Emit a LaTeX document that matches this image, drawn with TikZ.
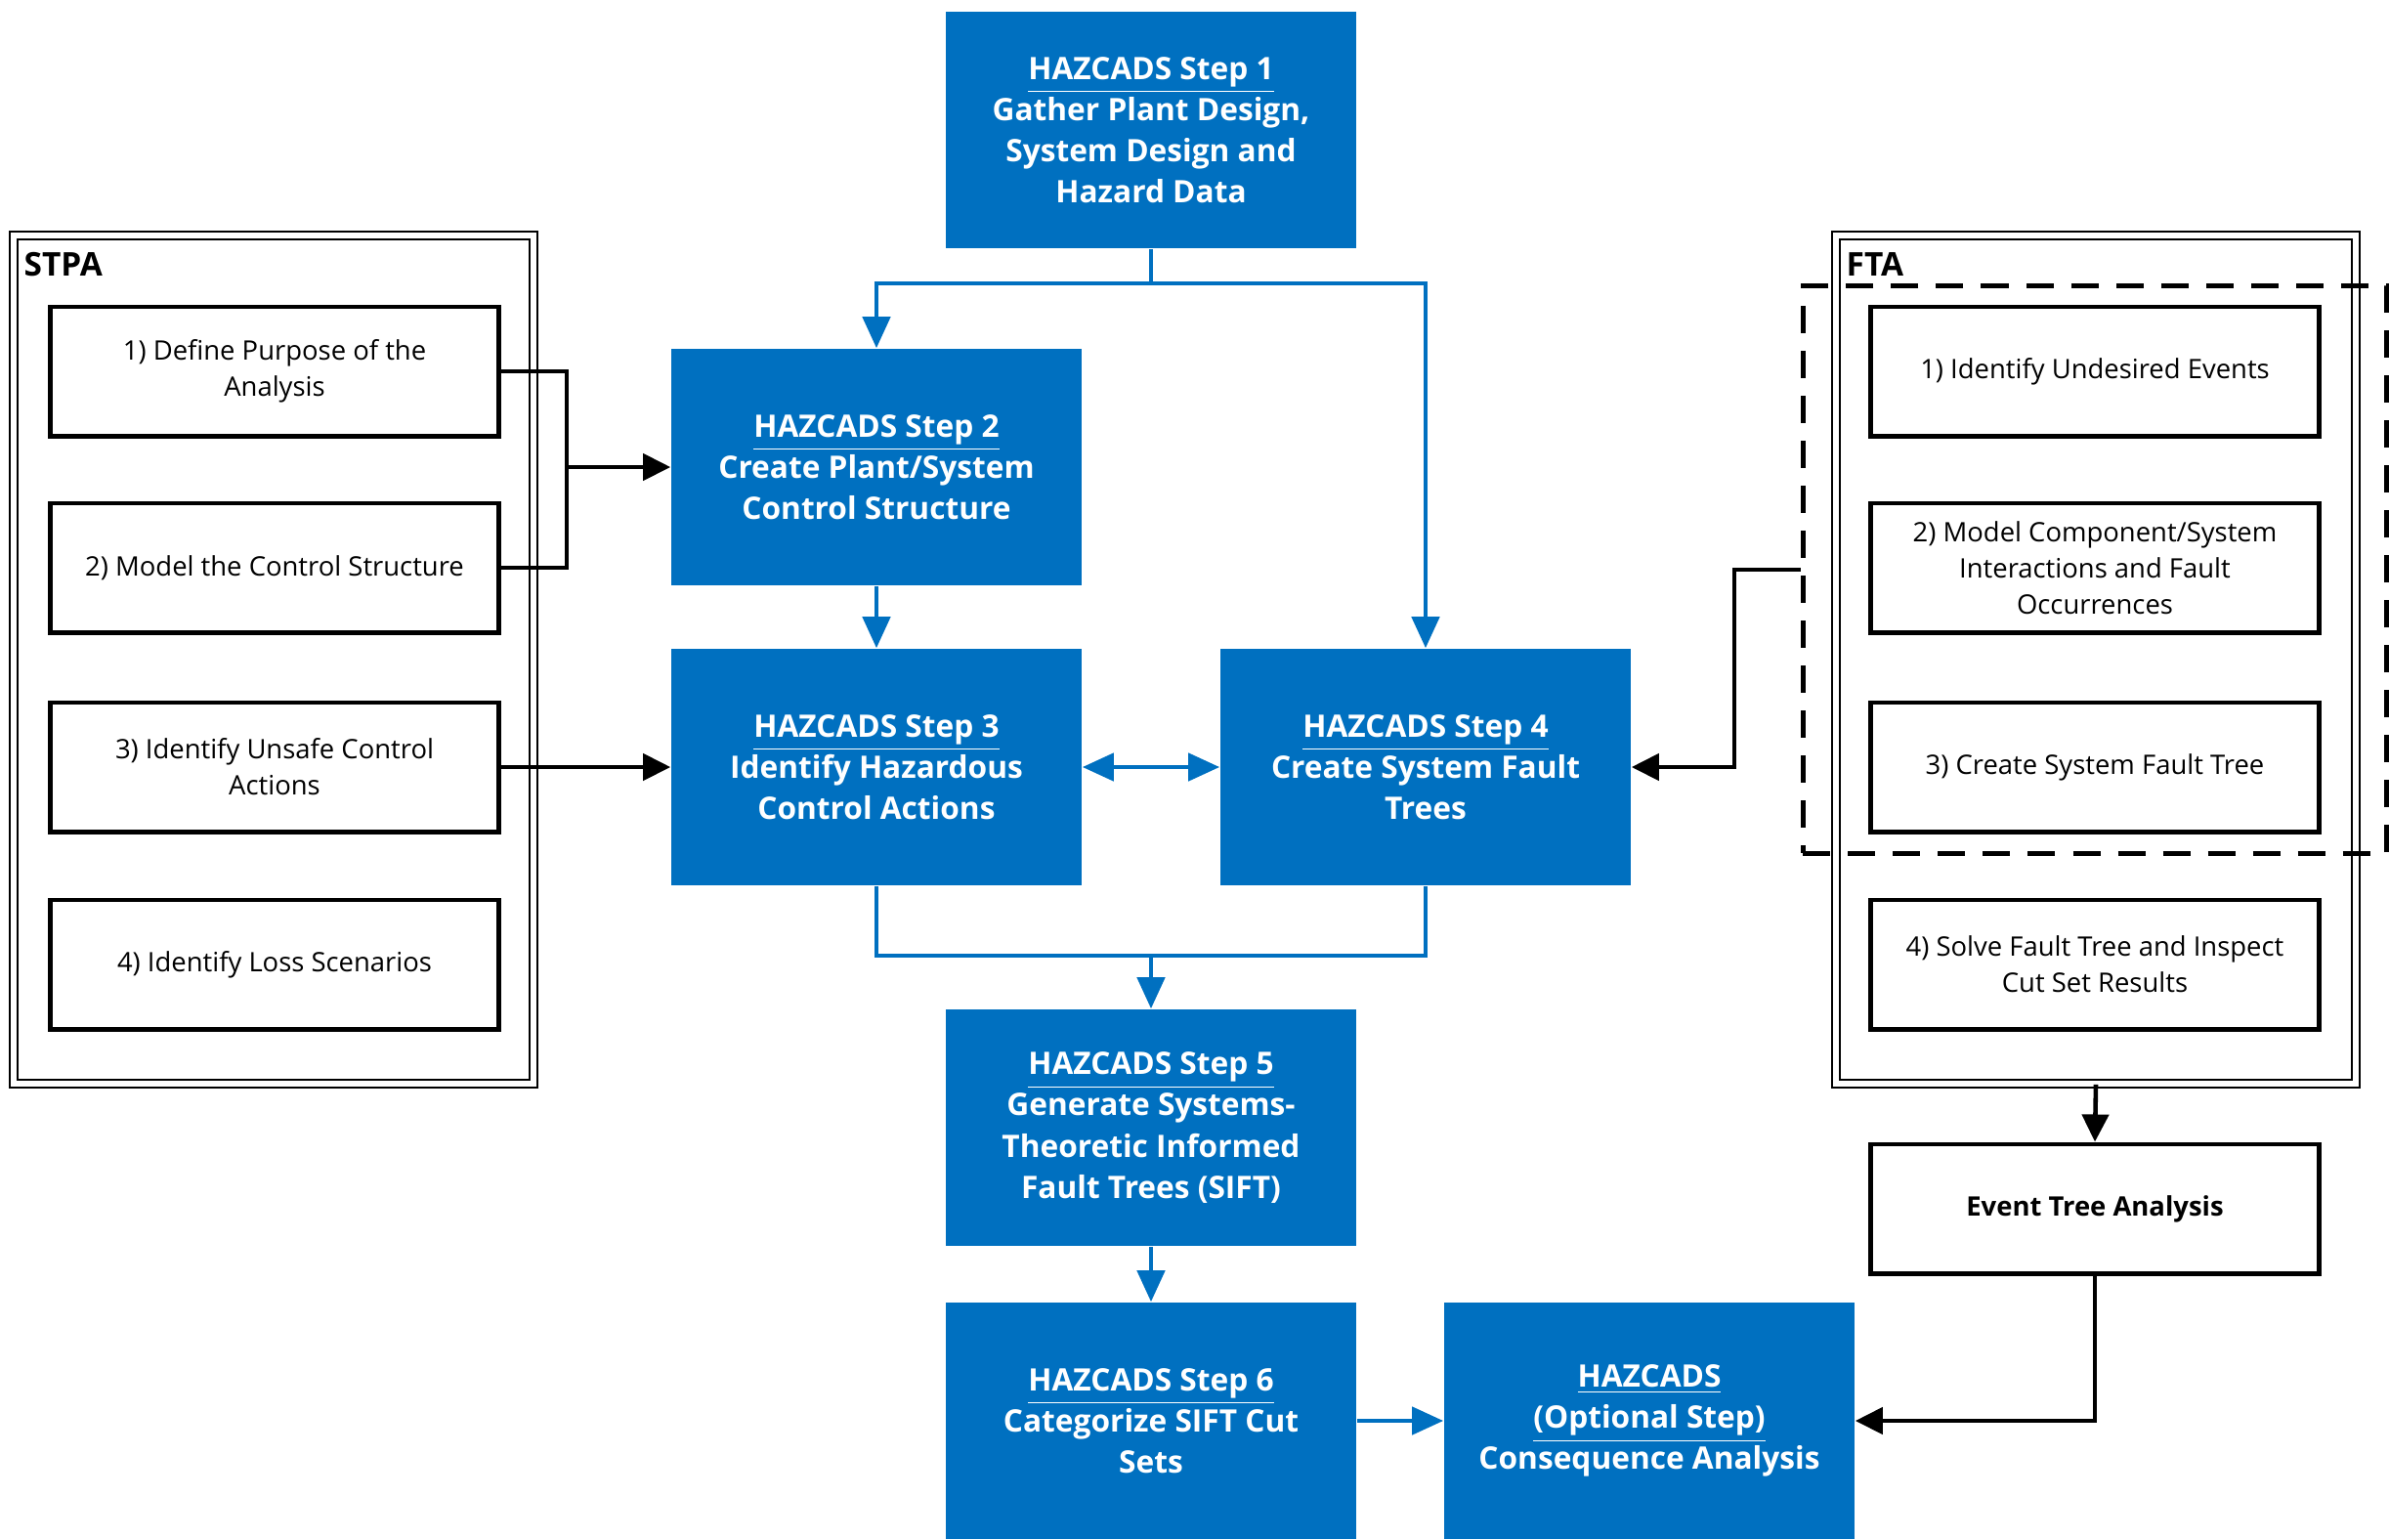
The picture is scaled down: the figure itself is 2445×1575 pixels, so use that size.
\documentclass[tikz,border=0pt]{standalone}
\usepackage{fontspec}
\setmainfont{Open Sans}
\usetikzlibrary{arrows.meta}
\definecolor{hzblue}{HTML}{0070C0}

\begin{document}
\begin{tikzpicture}[x=0.01cm,y=-0.01cm]
	\tikzstyle{every node}+=[inner sep=0pt]
	\tikzstyle{stepbox}=[fill=hzblue, text=white, align=center, font=\bfseries\fontsize{9}{12}\selectfont, minimum width=4.2cm, minimum height=2.42cm]
	\tikzstyle{subbox}=[draw=black, line width=1.4pt, align=center, font=\fontsize{7.8}{10.5}\selectfont, minimum width=4.58cm, minimum height=1.32cm]
	\tikzstyle{groupbox}=[draw=black, double, line width=0.6pt, double distance=1.6pt, minimum width=5.32cm, minimum height=8.67cm]
	\tikzstyle{grouptitle}=[anchor=west, font=\bfseries\fontsize{9.5}{11}\selectfont]
	\tikzstyle{blueline}=[hzblue, line width=1.3pt]
	\tikzstyle{bluearrow}=[blueline, -{Triangle[length=0.32cm,width=0.28cm]}]
	\tikzstyle{blackline}=[black, line width=1.3pt]
	\tikzstyle{blackarrow}=[blackline, -{Triangle[length=0.28cm,width=0.27cm]}]
	\useasboundingbox (0,0) rectangle (2445,1575);

	% STPA side
	\node[groupbox] (stpa) at (280,675) {};
	\node[grouptitle] (stpatitle) at (24,271) {STPA};
	\node[subbox] (p1) at (281,380) {1) Define Purpose of the\\Analysis};
	\node[subbox] (p2) at (281,581) {2) Model the Control Structure};
	\node[subbox] (p3) at (281,785) {3) Identify Unsafe Control\\Actions};
	\node[subbox] (p4) at (281,987) {4) Identify Loss Scenarios};

	% FTA side
	\node[groupbox] (fta) at (2145,675) {};
	\node[grouptitle] (ftatitle) at (1889,271) {FTA};
	\node[subbox] (f1) at (2144,380) {1) Identify Undesired Events};
	\node[subbox] (f2) at (2144,581) {2) Model Component/System\\Interactions and Fault\\Occurrences};
	\node[subbox] (f3) at (2144,785) {3) Create System Fault Tree};
	\node[subbox] (f4) at (2144,987) {4) Solve Fault Tree and Inspect\\Cut Set Results};
	\node[draw=black, line width=1.4pt, dash pattern=on 0.28cm off 0.18cm, minimum width=5.97cm, minimum height=5.8cm] (ftagroup) at (2144,583) {};
	\node[subbox, font=\bfseries\fontsize{7.8}{10}\selectfont] (eta) at (2144,1237) {Event Tree Analysis};

	% HAZCADS steps
	\node[stepbox] (s1) at (1178,133) {\underline{HAZCADS Step 1}\\Gather Plant Design,\\System Design and\\Hazard Data};
	\node[stepbox] (s2) at (897,478) {\underline{HAZCADS Step 2}\\Create Plant/System\\Control Structure};
	\node[stepbox] (s3) at (897,785) {\underline{HAZCADS Step 3}\\Identify Hazardous\\Control Actions};
	\node[stepbox] (s4) at (1459,785) {\underline{HAZCADS Step 4}\\Create System Fault\\Trees};
	\node[stepbox] (s5) at (1178,1154) {\underline{HAZCADS Step 5}\\Generate Systems-\\Theoretic Informed\\Fault Trees (SIFT)};
	\node[stepbox] (s6) at (1178,1454) {\underline{HAZCADS Step 6}\\Categorize SIFT Cut\\Sets};
	\node[stepbox] (opt) at (1688,1454) {\underline{HAZCADS}\\\underline{(Optional Step)}\\Consequence Analysis};

	\coordinate (split) at (1178,290);
	\coordinate (join) at (1178,978);
	\draw[blueline] (s1.south) -- (split);
	\draw[bluearrow] (split) -| (s2.north);
	\draw[bluearrow] (split) -| (s4.north);
	\draw[bluearrow] (s2) -- (s3);
	\draw[bluearrow, {Triangle[length=0.32cm,width=0.28cm]}-{Triangle[length=0.32cm,width=0.28cm]}] (s3) -- (s4);
	\draw[blueline] (s3.south) |- (join) -| (s4.south);
	\draw[bluearrow] (join) -- (s5);
	\draw[bluearrow] (s5) -- (s6);
	\draw[bluearrow] (s6) -- (opt);

	\coordinate (stpajoin) at (580,478);
	\coordinate (ftabend) at (1775,583);
	\draw[blackline] (p1.east) -| (stpajoin) |- (p2.east);
	\draw[blackarrow] (stpajoin) -- (s2.west);
	\draw[blackarrow] (p3) -- (s3);
	\draw[blackarrow] (ftagroup.west) -- (ftabend) |- (s4.east);
	\draw[blackarrow] (fta.south) -- (eta.north);
	\draw[blackarrow] (eta.south) |- (opt.east);
\end{tikzpicture}
\end{document}
